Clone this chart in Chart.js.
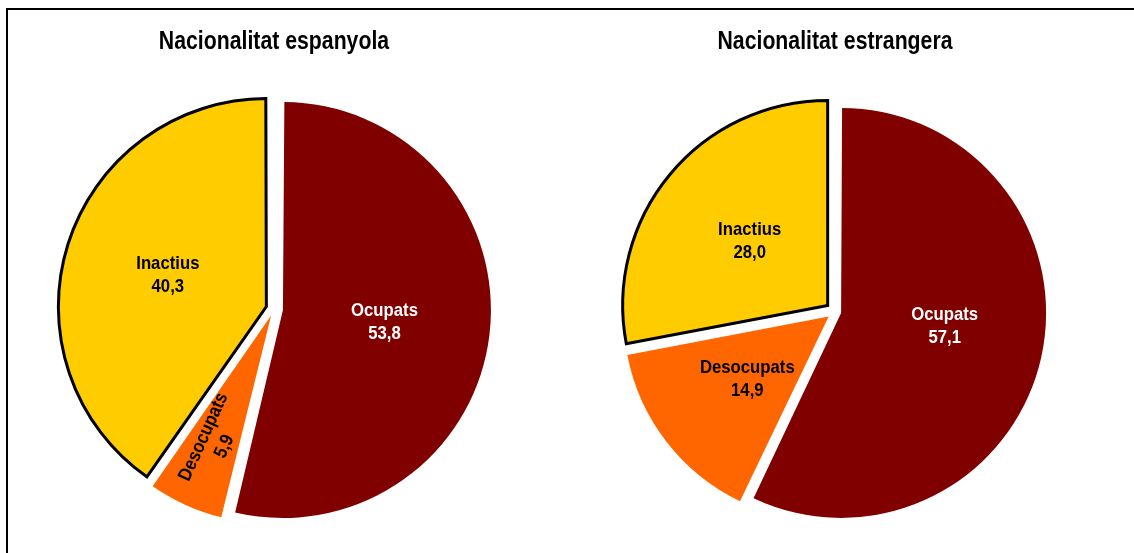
<!DOCTYPE html>
<html>
<head>
<meta charset="utf-8">
<script src="https://cdn.jsdelivr.net/npm/chart.js@4.4.1/dist/chart.umd.min.js"></script>
<style>
    body { margin: 0; background: #fff; width: 1134px; height: 553px; overflow: hidden; position: relative; }
    #frame { position: absolute; left: 6px; top: 8px; width: 1200px; height: 600px; border-left: 2px solid #000; border-top: 2px solid #000; }
    canvas { position: absolute; top: 0; }
    #left { left: 0; }
    #right { left: 560px; }
</style>
</head>
<body>
<div id="frame"></div>
<canvas id="left" width="548" height="553"></canvas>
<canvas id="right" width="550" height="553"></canvas>
<script>
// Data
const categories = ['Ocupats', 'Desocupats', 'Inactius'];
const espanyola = [53.8, 5.9, 40.3];
const estrangera = [57.1, 14.9, 28.0];
const titles = ['Nacionalitat espanyola', 'Nacionalitat estrangera'];

const colors = ['#800000', '#FF6600', '#FFCC00'];
const labelColors = ['#fff', '#000', '#000'];
const FONT = "'Liberation Sans', Arial, sans-serif";

// Narrow bold text: Liberation Sans squeezed horizontally (no Arial Narrow here)
function narrowText(ctx, text, x, y, size, sx) {
    ctx.save();
    ctx.translate(x, y);
    ctx.scale(sx, 1);
    ctx.font = 'bold ' + size + 'px ' + FONT;
    ctx.textAlign = 'center';
    ctx.textBaseline = 'middle';
    ctx.fillText(text, 0, 0);
    ctx.restore();
}

// Chart.js grows the radius of exploded slices; keep them all at the same radius
const fixRadius = {
    id: 'fixRadius',
    beforeDatasetsDraw(chart) {
        const R = chart.options.plugins.fixRadius.radius;
        chart.getDatasetMeta(0).data.forEach(arc => {
            const off = (arc.options.offset || 0) / 4;
            const fix = 1 - Math.sin(Math.min(Math.PI, arc.circumference));
            arc.outerRadius = R - off * fix;
        });
    }
};

// Title above each pie
const pieTitle = {
    id: 'pieTitle',
    afterDraw(chart) {
        const o = chart.options.plugins.pieTitle;
        const ctx = chart.ctx;
        ctx.fillStyle = '#000';
        narrowText(ctx, o.text, chart.width / 2, o.y, 25, 0.85);
    }
};

// Slice labels: category + value
const sliceLabels = {
    id: 'sliceLabels',
    afterDatasetsDraw(chart) {
        const opts = chart.options.plugins.sliceLabels;
        const R = chart.options.plugins.fixRadius.radius;
        const ds = chart.data.datasets[0];
        const ctx = chart.ctx;
        chart.getDatasetMeta(0).data.forEach((arc, i) => {
            const mid = (arc.startAngle + arc.endAngle) / 2;
            const ang = mid + opts.turn[i] * Math.PI / 180;
            const d = opts.dist[i] * R;
            const x = arc.x + Math.cos(ang) * d;
            const y = arc.y + Math.sin(ang) * d;
            const lines = [chart.data.labels[i], ds.data[i].toFixed(1).replace('.', ',')];
            ctx.save();
            ctx.translate(x, y);
            if (opts.rotate[i]) ctx.rotate(mid + Math.PI);
            ctx.fillStyle = labelColors[i];
            narrowText(ctx, lines[0], 0, -11.5, 19, 0.88);
            narrowText(ctx, lines[1], 0, 11.5, 19, 0.88);
            ctx.restore();
        });
    }
};

function makePie(id, values, title, radius, offsets, top, dist, turn, rotate) {
    return new Chart(document.getElementById(id), {
        type: 'pie',
        data: {
            labels: categories,
            datasets: [{
                data: values,
                backgroundColor: colors,
                borderColor: ['#000', '#000', '#000'],
                borderWidth: [0, 0, 3],
                borderJoinStyle: 'miter',
                offset: offsets
            }]
        },
        options: {
            responsive: false,
            animation: false,
            radius: radius,
            layout: { padding: { top: top, bottom: 0, left: 0, right: 0 } },
            events: [],
            plugins: {
                legend: { display: false },
                tooltip: { enabled: false },
                title: { display: false },
                pieTitle: { text: title, y: 42 },
                fixRadius: { radius: radius },
                sliceLabels: { dist: dist, turn: turn, rotate: rotate }
            }
        },
        plugins: [fixRadius, sliceLabels, pieTitle]
    });
}

makePie('left', espanyola, titles[0], 208, [36, 28, 32], 65,
    [0.535, 0.70, 0.535], [0, 0, 0], [false, true, false]);
makePie('right', estrangera, titles[1], 205, [25, 32, 38], 70,
    [0.54, 0.54, 0.54], [-5, 0, 0], [false, false, false]);
</script>
</body>
</html>
